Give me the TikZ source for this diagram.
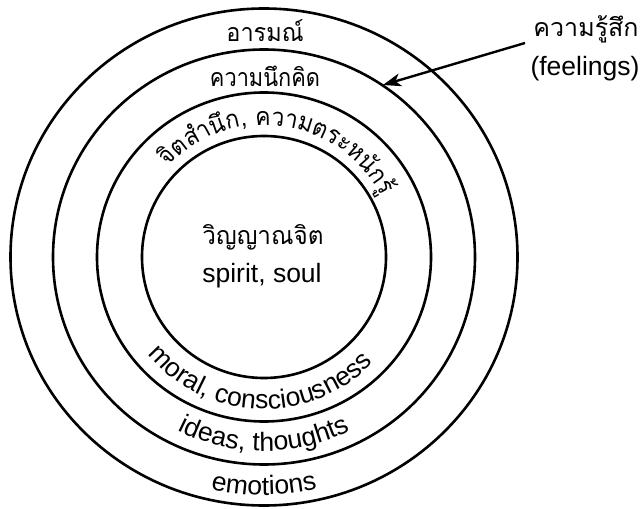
\documentclass[tikz,border=0pt]{standalone}
\usepackage{fontspec}
\newfontfamily\thaifont[Script=Thai]{Loma}
\newfontfamily\latf{Liberation Sans}
\usetikzlibrary{arrows.meta}
\newcommand\TF{\thaifont\fontsize{25}{30}\selectfont}
\newcommand\LF{\latf\fontsize{26.5}{30}\selectfont}
\newdimen\atw \newdimen\atc
\def\arcsx{1}
% measure (outside the picture): #1 name, #2 font, #3 clusters
\newcommand\measurearc[3]{%
  \global\atw=0pt
  \foreach \cl [count=\ci] in {#3}{\setbox0=\hbox{#2\cl}\global\advance\atw by \wd0
    \expandafter\xdef\csname arcw#1\ci\endcsname{\the\wd0}}%
  \expandafter\xdef\csname arcW#1\endcsname{\the\atw}}
% place: #1 name, #2 sign (1 top, -1 bottom), #3 baseline radius, #4 centre angle, #5 font, #6 clusters
\newcommand\arctext[6]{%
  \global\atc=0pt
  \foreach \cl [count=\ci] in {#6}{%
    \edef\wthis{\csname arcw#1\ci\endcsname}%
    \edef\wtot{\csname arcW#1\endcsname}%
    \pgfmathsetmacro\aang{#4+(#2)*\arcsx*(0.5*\wtot-\the\atc-0.5*\wthis)/(#3)*180/pi}%
    \pgfmathsetmacro\arot{\aang-(#2)*90}%
    \node[arcch,rotate=\arot,xscale=\arcsx] (#1\ci) at (\aang:#3) {#5\cl};
    \global\advance\atc by \wthis\relax
  }}
\tikzset{
  ring/.style={draw=black,line width=2.6pt},
  arcch/.style={anchor=base,inner sep=0pt},
  lbl/.style={anchor=base,inner sep=0pt},
  pointer/.style={draw=black,line width=2.4pt,-{Stealth[length=18pt,width=13pt,inset=5pt]}}
}
\begin{document}
\measurearc{con}{\TF}{จิ, ต, สำ, นึ, ก, {,}, \ , ค, ว, า, ม, ต, ร, ะ, ห, นั, ก, รู้}%
\measurearc{mor}{\LF}{m, o, r, a, l, {,}, \ , c, o, n, s, c, i, o, u, s, n, e, s, s}%
\measurearc{tho}{\LF}{i, d, e, a, s, {,}, \ , t, h, o, u, g, h, t, s}%
\measurearc{emn}{\LF}{e, m, o, t, i, o, n, s}%
\begin{tikzpicture}[x=1pt,y=1pt]
\useasboundingbox (-264,-251) rectangle (380,257);
\draw[ring] (0,0) ellipse [x radius=253.5, y radius=248.5];
\draw[ring] (0,0) ellipse [x radius=211, y radius=207.5];
\draw[ring] (0,0) ellipse [x radius=167, y radius=164.5];
\draw[ring] (0,0) ellipse [x radius=122, y radius=121];

\node[lbl,xscale=0.94] (emo) at (1,215) {\TF อารมณ์};
\node[lbl,xscale=0.87] (ide) at (1,170) {\TF ความนึกคิด};
\def\arcsx{0.92}
\arctext{con}{1}{132}{82}{\TF}{จิ, ต, สำ, นึ, ก, {,}, \ , ค, ว, า, ม, ต, ร, ะ, ห, นั, ก, รู้}
\def\arcsx{1}

\node[lbl,xscale=0.97] (spth) at (-1,12) {\TF วิญญาณจิต};
\node[lbl] (spen) at (-2,-25) {\LF spirit, soul};

\arctext{mor}{-1}{152}{268}{\LF}{m, o, r, a, l, {,}, \ , c, o, n, s, c, i, o, u, s, n, e, s, s}
\arctext{tho}{-1}{194}{270}{\LF}{i, d, e, a, s, {,}, \ , t, h, o, u, g, h, t, s}
\arctext{emn}{-1}{238}{270}{\LF}{e, m, o, t, i, o, n, s}

\node[lbl] (feth) at (322,220) {\TF ความรู้สึก};
\node[lbl] (feen) at (321,181) {\LF (feelings)};
\coordinate (arrS) at (261,214);
\coordinate (arrT) at (119,172);
\draw[pointer] (arrS) -- (arrT);
\end{tikzpicture}
\end{document}
